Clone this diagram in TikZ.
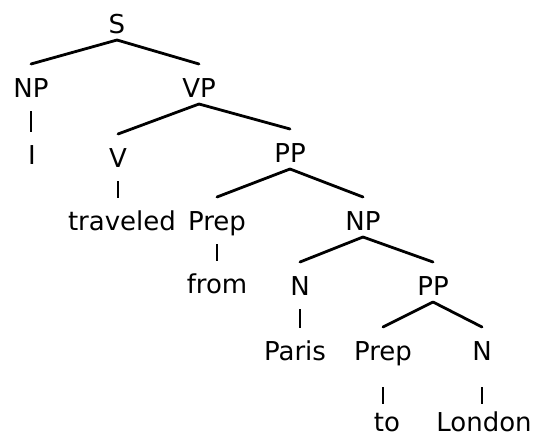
\documentclass[tikz,border=0pt]{standalone}
\usepackage{fontspec}
\setmainfont{DejaVu Sans}
\usetikzlibrary{calc}
\tikzset{
  lbl/.style={anchor=base, inner sep=0pt, font=\fontsize{26}{31}\selectfont},
  branch/.style={line width=2.8pt, line cap=round},
  vline/.style={line width=2.4pt, line cap=butt},
}
\newcommand{\brn}[2]{\draw[branch] ([yshift=-7pt]#1.base) -- ([yshift=33pt]#2.base);}
\newcommand{\vln}[2]{\draw[vline] ([yshift=-14pt]#1.base) -- ($(#1.base |- #2.base)+(0,32pt)$);}
\begin{document}
\begin{tikzpicture}[x=1pt,y=-1pt]
\useasboundingbox[fill=white] (0,0) rectangle (535,437);
\node[lbl] (S) at (117,33) {S};
\node[lbl] (NP1) at (31,97) {NP};
\node[lbl] (VP) at (199,97) {VP};
\node[lbl] (I) at (32,164) {I};
\node[lbl] (V) at (118,167) {V};
\node[lbl] (PP1) at (290,162) {PP};
\node[lbl] (trav) at (122,230) {traveled};
\node[lbl] (Prep1) at (217,230) {Prep};
\node[lbl] (NP2) at (363,230) {NP};
\node[lbl] (from) at (217,293) {from};
\node[lbl] (N1) at (300,295) {N};
\node[lbl] (PP2) at (433,295) {PP};
\node[lbl] (Paris) at (295,360) {Paris};
\node[lbl] (Prep2) at (383,360) {Prep};
\node[lbl] (N2) at (482,360) {N};
\node[lbl] (to) at (387,431) {to};
\node[lbl] (London) at (484,431) {London};
\brn{S}{NP1}\brn{S}{VP}
\brn{VP}{V}\brn{VP}{PP1}
\brn{PP1}{Prep1}\brn{PP1}{NP2}
\brn{NP2}{N1}\brn{NP2}{PP2}
\brn{PP2}{Prep2}\brn{PP2}{N2}
\vln{NP1}{I}
\vln{V}{trav}
\vln{Prep1}{from}
\vln{N1}{Paris}
\draw[vline] ([yshift=-27pt]Prep2.base) -- ($(Prep2.base |- to.base)+(0,27pt)$);
\draw[vline] ([yshift=-27pt]N2.base) -- ($(N2.base |- London.base)+(0,27pt)$);
\end{tikzpicture}
\end{document}
